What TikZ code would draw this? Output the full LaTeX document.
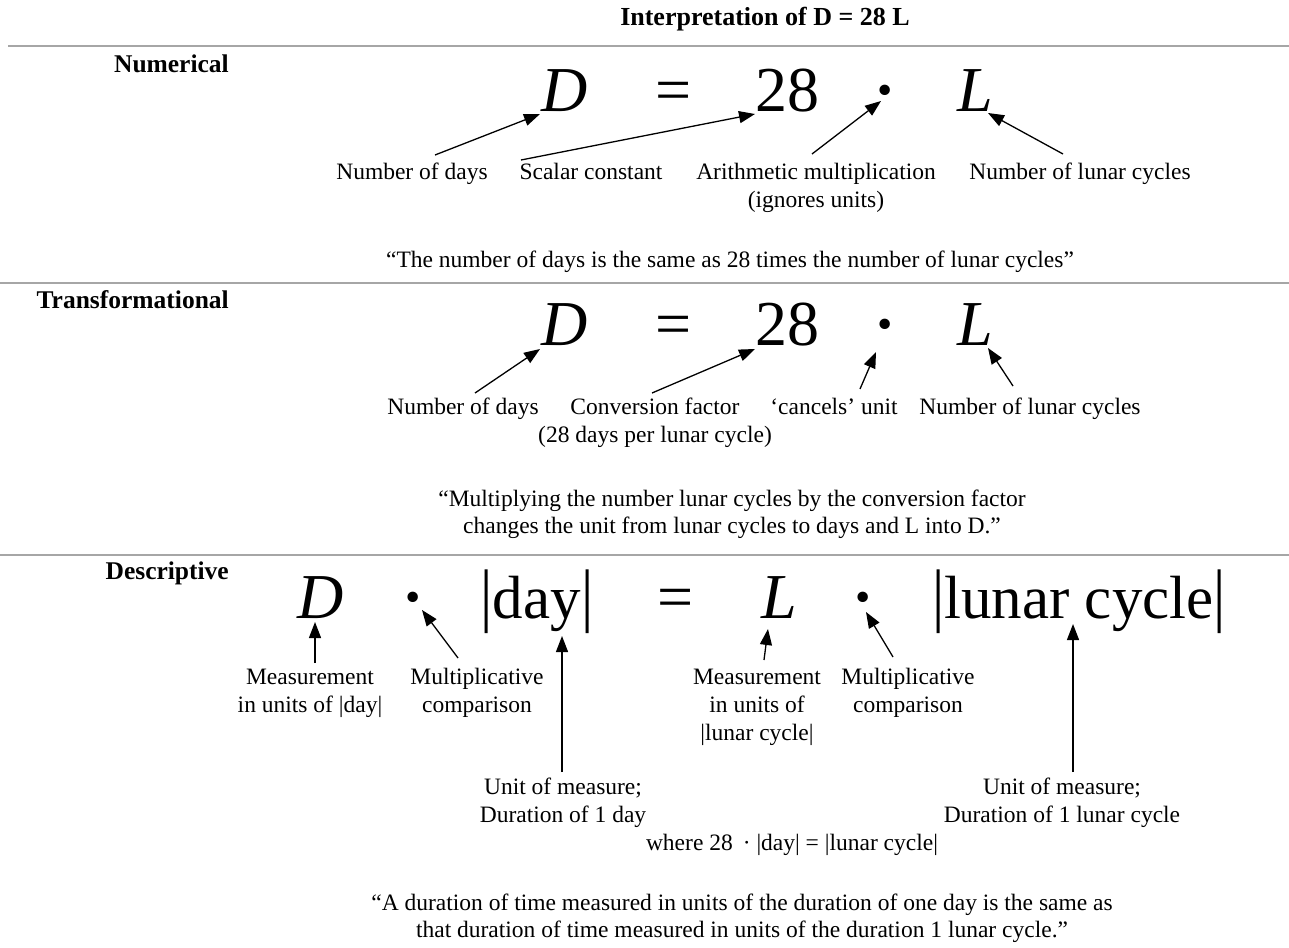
\documentclass[tikz,border=0pt]{standalone}
\usepackage{fontspec}
\usepackage{graphicx}
\setmainfont{Liberation Serif}
\usetikzlibrary{arrows.meta}
\newcommand{\tallbar}{\scalebox{1}[1.15]{|}}
\tikzset{
  lbl/.style={font=\fontsize{23.5}{28}\selectfont, align=center, inner sep=0pt, anchor=base},
  quote/.style={font=\fontsize{23.5}{27}\selectfont, align=center, inner sep=0pt, anchor=base},
  hdr/.style={font=\fontsize{25.5}{30}\selectfont\bfseries, inner sep=0pt, anchor=base east},
  big/.style={font=\fontsize{64}{70}\selectfont, inner sep=0pt, anchor=base},
  bigdot/.style={font=\fontsize{64}{70}\selectfont\bfseries, inner sep=0pt, anchor=base},
  bigi/.style={font=\fontsize{64}{70}\selectfont\itshape, inner sep=0pt, anchor=base},
  word/.style={font=\fontsize{61}{70}\selectfont, inner sep=0pt, anchor=base},
  sep/.style={draw=gray!70, line width=1.6pt},
  arr/.style={line width=1.3pt, -{Triangle[length=16pt,width=12pt]}}
}
\begin{document}
\begin{tikzpicture}[x=1pt,y=-1pt]
\useasboundingbox (0,0) rectangle (1289,947);
% title and separators
\node[font=\fontsize{26}{30}\selectfont\bfseries, inner sep=0pt, anchor=base] (title) at (765,26) {Interpretation of D = 28 L};
\coordinate (s1a) at (8,46);  \coordinate (s1b) at (1289,46);
\coordinate (s2a) at (0,283); \coordinate (s2b) at (1289,283);
\coordinate (s3a) at (0,555); \coordinate (s3b) at (1289,555);
\draw[sep] (s1a) -- (s1b);
\draw[sep] (s2a) -- (s2b);
\draw[sep] (s3a) -- (s3b);
\node[hdr] (hnum) at (229,73) {Numerical};
\node[hdr] (htra) at (229,308) {Transformational};
\node[hdr] (hdes) at (229,579) {Descriptive};

% ---------- Row 1: numerical ----------
\node[bigi] (r1D) at (565,111) {D};
\node[big] (r1eq) at (674,111) {=};
\node[big] (r1n) at (787,111) {28};
\node[bigdot] (r1dot) at (885,111) {·};
\node[bigi] (r1L) at (975,111) {L};
\node[lbl] (l1a) at (412,179) {Number of days};
\node[lbl] (l1b) at (591,179) {Scalar constant};
\node[lbl] (l1c) at (816,207) {Arithmetic multiplication\\(ignores units)};
\node[lbl] (l1d) at (1080,179) {Number of lunar cycles};
\node[quote] (q1) at (730,267) {“The number of days is the same as 28 times the number of lunar cycles”};
\coordinate (t1a) at (435,155); \coordinate (h1a) at (540,114);
\coordinate (t1b) at (521,160); \coordinate (h1b) at (755,114);
\coordinate (t1c) at (812,154); \coordinate (h1c) at (881,101);
\coordinate (t1d) at (1063,154); \coordinate (h1d) at (988,113);
\draw[arr] (t1a) -- (h1a);
\draw[arr] (t1b) -- (h1b);
\draw[arr] (t1c) -- (h1c);
\draw[arr] (t1d) -- (h1d);

% ---------- Row 2: transformational ----------
\node[bigi] (r2D) at (565,345) {D};
\node[big] (r2eq) at (674,345) {=};
\node[big] (r2n) at (787,345) {28};
\node[bigdot] (r2dot) at (885,345) {·};
\node[bigi] (r2L) at (975,345) {L};
\node[lbl] (l2a) at (463,414) {Number of days};
\node[lbl] (l2b) at (655,442) {Conversion factor\\(28 days per lunar cycle)};
\node[lbl] (l2c) at (834,414) {‘cancels’ unit};
\node[lbl] (l2d) at (1030,414) {Number of lunar cycles};
\node[quote] (q2) at (732,533) {“Multiplying the number lunar cycles by the conversion factor\\changes the unit from lunar cycles to days and L into D.”};
\coordinate (t2a) at (475,393); \coordinate (h2a) at (540,349);
\coordinate (t2b) at (652,393); \coordinate (h2b) at (755,349);
\coordinate (t2c) at (860,389); \coordinate (h2c) at (876,352);
\coordinate (t2d) at (1013,386); \coordinate (h2d) at (988,348);
\draw[arr] (t2a) -- (h2a);
\draw[arr] (t2b) -- (h2b);
\draw[arr] (t2c) -- (h2c);
\draw[arr] (t2d) -- (h2d);

% ---------- Row 3: descriptive ----------
\node[bigi] (r3D) at (321,618) {D};
\node[bigdot] (r3dot1) at (413,618) {·};
\node[word] (r3day) at (537,618) {\tallbar day\tallbar};
\node[big] (r3eq) at (676,618) {=};
\node[bigi] (r3L) at (779,618) {L};
\node[bigdot] (r3dot2) at (863,618) {·};
\node[word] (r3lc) at (1079,618) {\tallbar lunar cycle\tallbar};
\node[lbl] (l3a) at (310,712) {Measurement\\in units of |day|};
\node[lbl] (l3b) at (477,712) {Multiplicative\\comparison};
\node[lbl] (l3c) at (563,822) {Unit of measure;\\Duration of 1 day};
\node[lbl] (l3d) at (757,740) {Measurement\\in units of\\|lunar cycle|};
\node[lbl] (l3e) at (908,712) {Multiplicative\\comparison};
\node[lbl] (l3f) at (1062,822) {Unit of measure;\\Duration of 1 lunar cycle};
\node[lbl] (where) at (792,850) {where 28\hspace{10pt}· |day| = |lunar cycle|};
\node[quote] (q3) at (742,937) {“A duration of time measured in units of the duration of one day is the same as\\that duration of time measured in units of the duration 1 lunar cycle.”};
\coordinate (t3a) at (315,663); \coordinate (h3a) at (315,622);
\coordinate (t3b) at (458,658); \coordinate (h3b) at (422,610);
\coordinate (t3c) at (562,772); \coordinate (h3c) at (562,636);
\coordinate (t3d) at (764,660); \coordinate (h3d) at (768,629);
\coordinate (t3e) at (893,657); \coordinate (h3e) at (866,612);
\coordinate (t3f) at (1073,772); \coordinate (h3f) at (1073,624);
\draw[arr] (t3a) -- (h3a);
\draw[arr] (t3b) -- (h3b);
\draw[arr] (t3c) -- (h3c);
\draw[arr] (t3d) -- (h3d);
\draw[arr] (t3e) -- (h3e);
\draw[arr] (t3f) -- (h3f);
\end{tikzpicture}
\end{document}
